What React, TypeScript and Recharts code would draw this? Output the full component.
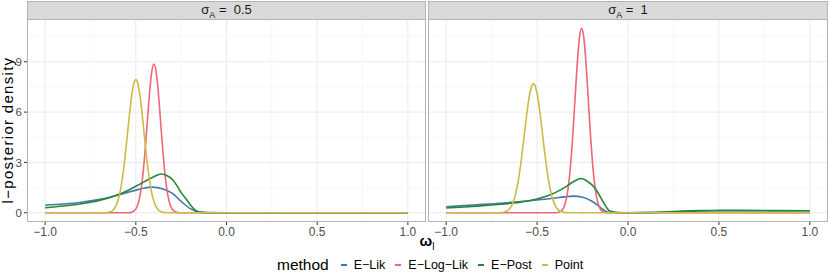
import React from 'react';
import { LineChart, Line, XAxis, YAxis, CartesianGrid } from 'recharts';

const xTicks = [-1, -0.5, 0, 0.5, 1];
const yTicks = [0, 3, 6, 9];
const xMinor = [-0.75, -0.25, 0.25, 0.75];
const yMinor = [1.5, 4.5, 7.5, 10.5];

const methods = ['E−Lik', 'E−Log−Lik', 'E−Post', 'Point'];
const colors = ['#4477AA', '#EE6677', '#228833', '#CCBB44'];

// sigma_A = 0.5
const lowLik: [number, number][] = [
  [-1, 0.45], [-0.9, 0.52], [-0.8, 0.63], [-0.75, 0.71], [-0.7, 0.8], [-0.65, 0.91],
  [-0.6, 1.05], [-0.55, 1.2], [-0.5, 1.35], [-0.45, 1.48], [-0.41, 1.53], [-0.35, 1.42],
  [-0.3, 1.17], [-0.25, 0.68], [-0.2, 0.25], [-0.15, 0.04], [-0.1, 0.01], [0, 0], [1, 0],
];
const lowLogLik: [number, number][] = [
  [-1, 0], [-0.54, 0], [-0.52, 0.05], [-0.51, 0.11], [-0.5, 0.23], [-0.49, 0.46], [-0.48, 0.86],
  [-0.47, 1.48], [-0.46, 2.38], [-0.45, 3.56], [-0.44, 4.95], [-0.43, 6.39], [-0.42, 7.66],
  [-0.41, 8.55], [-0.4, 8.87], [-0.39, 8.55], [-0.38, 7.66], [-0.37, 6.39], [-0.36, 4.95],
  [-0.35, 3.56], [-0.34, 2.38], [-0.33, 1.48], [-0.32, 0.86], [-0.31, 0.46], [-0.3, 0.23],
  [-0.29, 0.11], [-0.28, 0.05], [-0.26, 0], [1, 0],
];
const lowPost: [number, number][] = [
  [-1, 0.3], [-0.9, 0.4], [-0.8, 0.54], [-0.75, 0.63], [-0.7, 0.74], [-0.65, 0.88],
  [-0.6, 1.07], [-0.55, 1.3], [-0.5, 1.58], [-0.45, 1.87], [-0.4, 2.15], [-0.36, 2.31],
  [-0.33, 2.22], [-0.3, 2.0], [-0.275, 1.65], [-0.25, 1.2], [-0.225, 0.85], [-0.2, 0.48],
  [-0.175, 0.18], [-0.15, 0.05], [-0.1, 0], [1, 0],
];
const lowPoint: [number, number][] = [
  [-1, 0], [-0.68, 0], [-0.66, 0.014], [-0.64, 0.06], [-0.63, 0.12], [-0.62, 0.23], [-0.61, 0.4],
  [-0.6, 0.67], [-0.59, 1.07], [-0.58, 1.64], [-0.57, 2.37], [-0.56, 3.26], [-0.55, 4.28],
  [-0.54, 5.35], [-0.53, 6.36], [-0.52, 7.19], [-0.51, 7.75], [-0.5, 7.94], [-0.49, 7.75],
  [-0.48, 7.19], [-0.47, 6.36], [-0.46, 5.35], [-0.45, 4.28], [-0.44, 3.26], [-0.43, 2.37],
  [-0.42, 1.64], [-0.41, 1.07], [-0.4, 0.67], [-0.39, 0.4], [-0.38, 0.23], [-0.37, 0.12],
  [-0.36, 0.06], [-0.34, 0.014], [-0.32, 0], [1, 0],
];

// sigma_A = 1
const highLik: [number, number][] = [
  [-1, 0.36], [-0.9, 0.43], [-0.8, 0.5], [-0.7, 0.57], [-0.6, 0.66], [-0.5, 0.76],
  [-0.4, 0.88], [-0.35, 0.95], [-0.3, 0.99], [-0.25, 0.93], [-0.2, 0.7], [-0.15, 0.3],
  [-0.12, 0.08], [-0.1, 0.02], [-0.05, 0], [0.1, 0.01], [0.2, 0.03], [0.3, 0.08],
  [0.4, 0.11], [0.5, 0.12], [0.6, 0.12], [0.8, 0.12], [1, 0.12],
];
const highLogLik: [number, number][] = [
  [-1, 0], [-0.395, 0], [-0.375, 0.06], [-0.365, 0.13], [-0.355, 0.28], [-0.345, 0.57],
  [-0.335, 1.06], [-0.325, 1.84], [-0.315, 2.95], [-0.305, 4.41], [-0.295, 6.14],
  [-0.285, 7.92], [-0.275, 9.5], [-0.265, 10.6], [-0.255, 11.0], [-0.245, 10.6],
  [-0.235, 9.5], [-0.225, 7.92], [-0.215, 6.14], [-0.205, 4.41], [-0.195, 2.95],
  [-0.185, 1.84], [-0.175, 1.06], [-0.165, 0.57], [-0.155, 0.28], [-0.145, 0.13],
  [-0.135, 0.06], [-0.115, 0], [1, 0],
];
const highPost: [number, number][] = [
  [-1, 0.28], [-0.9, 0.34], [-0.8, 0.42], [-0.7, 0.51], [-0.6, 0.62], [-0.5, 0.82],
  [-0.45, 0.98], [-0.4, 1.2], [-0.35, 1.5], [-0.3, 1.85], [-0.26, 2.04], [-0.22, 1.85],
  [-0.18, 1.45], [-0.15, 0.9], [-0.12, 0.35], [-0.1, 0.1], [-0.05, 0.01], [0, 0],
  [0.1, 0.01], [0.2, 0.04], [0.3, 0.1], [0.4, 0.13], [0.5, 0.14], [0.6, 0.14],
  [0.8, 0.13], [1, 0.12],
];
const highPoint: [number, number][] = [
  [-1, 0], [-0.72, 0], [-0.7, 0.01], [-0.68, 0.05], [-0.66, 0.15], [-0.65, 0.26], [-0.64, 0.43],
  [-0.63, 0.68], [-0.62, 1.04], [-0.61, 1.52], [-0.6, 2.14], [-0.59, 2.89], [-0.58, 3.75],
  [-0.57, 4.67], [-0.56, 5.59], [-0.55, 6.43], [-0.54, 7.11], [-0.53, 7.55], [-0.52, 7.7],
  [-0.51, 7.55], [-0.5, 7.11], [-0.49, 6.43], [-0.48, 5.59], [-0.47, 4.67], [-0.46, 3.75],
  [-0.45, 2.89], [-0.44, 2.14], [-0.43, 1.52], [-0.42, 1.04], [-0.41, 0.68], [-0.4, 0.43],
  [-0.39, 0.26], [-0.38, 0.15], [-0.36, 0.05], [-0.34, 0.01], [-0.32, 0], [1, 0],
];

const FONT = '"Liberation Sans", Arial, sans-serif';
const BORDER = '#B3B3B3';

const fmt = (v: number) => (v < 0 ? '−' : '') + Math.abs(v).toFixed(1);

function Panel({
  left,
  plotWidth,
  showY,
  label,
  series,
}: {
  left: number;
  plotWidth: number;
  showY: boolean;
  label: React.ReactNode;
  series: [number, number][][];
}) {
  const yWidth = showY ? 27 : 0;
  const plotLeft = left + yWidth;
  return (
    <>
      <div style={{ position: 'absolute', left, top: 0 }}>
        <LineChart
          width={yWidth + plotWidth}
          height={245}
          margin={{ top: 19, right: 0, bottom: 0, left: 0 }}
        >
          <CartesianGrid
            stroke="#F3F3F3"
            strokeWidth={0.6}
            horizontalValues={yMinor}
            verticalValues={xMinor}
          />
          <CartesianGrid
            stroke="#EBEBEB"
            strokeWidth={1}
            horizontalValues={yTicks}
            verticalValues={xTicks}
          />
          <XAxis
            type="number"
            dataKey="x"
            domain={[-1.1, 1.1]}
            ticks={xTicks}
            interval={0}
            allowDataOverflow
            tickFormatter={fmt}
            axisLine={false}
            tickSize={3}
            tickMargin={2}
            height={23}
            tickLine={{ stroke: '#333333' }}
            tick={{ fill: '#4D4D4D', fontSize: 12 }}
          />
          <YAxis
            type="number"
            dataKey="y"
            hide={!showY}
            domain={[-0.55, 11.55]}
            ticks={yTicks}
            interval={0}
            allowDataOverflow
            axisLine={false}
            tickSize={3}
            tickMargin={2}
            width={yWidth}
            tickLine={{ stroke: '#333333' }}
            tick={{ fill: '#4D4D4D', fontSize: 11.5 }}
          />
          {series.map((pts, i) => (
            <Line
              key={methods[i]}
              data={pts.map(([x, y]) => ({ x, y }))}
              dataKey="y"
              type="monotone"
              stroke={colors[i]}
              strokeWidth={1.6}
              dot={false}
              activeDot={false}
              isAnimationActive={false}
            />
          ))}
        </LineChart>
      </div>
      <div
        style={{
          position: 'absolute',
          left: plotLeft,
          top: 19,
          width: plotWidth,
          height: 203,
          border: `1px solid ${BORDER}`,
          boxSizing: 'border-box',
          pointerEvents: 'none',
        }}
      />
      <div
        style={{
          position: 'absolute',
          left: plotLeft,
          top: 1,
          width: plotWidth,
          height: 19,
          background: '#D9D9D9',
          border: `1px solid ${BORDER}`,
          boxSizing: 'border-box',
          color: '#1A1A1A',
          fontSize: 13,
          display: 'flex',
          alignItems: 'center',
          justifyContent: 'center',
        }}
      >
        {label}
      </div>
    </>
  );
}

export default function App() {
  return (
    <div
      style={{
        position: 'absolute',
        left: 0,
        top: 0,
        width: 830,
        height: 277,
        background: '#FFFFFF',
        fontFamily: FONT,
        overflow: 'hidden',
      }}
    >
      <Panel
        left={0}
        plotWidth={399}
        showY
        label={
          <span>
            σ<sub style={{ fontSize: 9 }}>A</sub> =&nbsp; 0.5
          </span>
        }
        series={[lowLik, lowLogLik, lowPost, lowPoint]}
      />
      <Panel
        left={428}
        plotWidth={400}
        showY={false}
        label={
          <span>
            σ<sub style={{ fontSize: 9 }}>A</sub> =&nbsp; 1
          </span>
        }
        series={[highLik, highLogLik, highPost, highPoint]}
      />
      <div
        style={{
          position: 'absolute',
          left: 7,
          top: 130,
          transform: 'translate(-50%, -50%) rotate(-90deg)',
          whiteSpace: 'nowrap',
          fontSize: 15,
          letterSpacing: 1.3,
          lineHeight: '15px',
          color: '#000',
        }}
      >
        l−posterior density
      </div>
      <div
        style={{
          position: 'absolute',
          left: 427,
          top: 242,
          transform: 'translate(-50%, -50%)',
          fontSize: 15,
          fontWeight: 'bold',
          color: '#000',
        }}
      >
        ω<sub style={{ fontSize: 10, fontWeight: 'normal' }}>l</sub>
      </div>
      <div
        style={{
          position: 'absolute',
          left: 277,
          top: 256,
          height: 18,
          display: 'flex',
          alignItems: 'center',
          whiteSpace: 'nowrap',
        }}
      >
        <span style={{ fontSize: 15.5, marginRight: 12 }}>method</span>
        {methods.map((m, i) => (
          <span key={m} style={{ display: 'flex', alignItems: 'center', marginRight: i < 3 ? 10 : 0 }}>
            <span style={{ width: 6, height: 2, background: colors[i], display: 'inline-block' }} />
            <span style={{ fontSize: 12.5, marginLeft: 7 }}>{m}</span>
          </span>
        ))}
      </div>
    </div>
  );
}
